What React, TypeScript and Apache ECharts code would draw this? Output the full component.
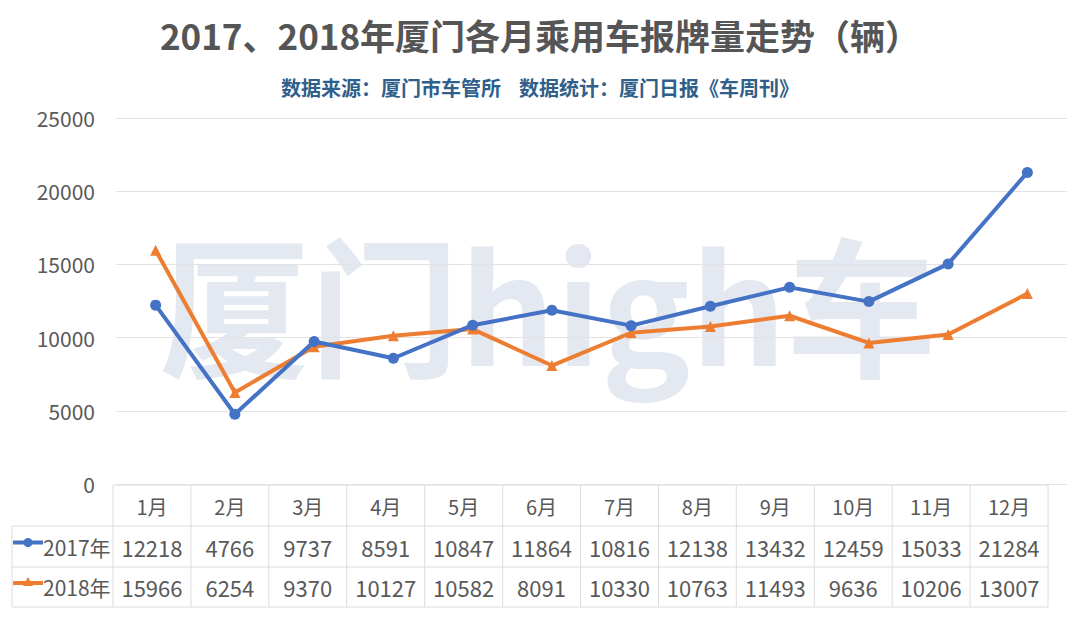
import React, { useEffect, useRef } from "react";
import * as echarts from "echarts";

const months = ["1月", "2月", "3月", "4月", "5月", "6月", "7月", "8月", "9月", "10月", "11月", "12月"];
const seriesNames = ["2017年", "2018年"];
const values2017 = [12218, 4766, 9737, 8591, 10847, 11864, 10816, 12138, 13432, 12459, 15033, 21284];
const values2018 = [15966, 6254, 9370, 10127, 10582, 8091, 10330, 10763, 11493, 9636, 10206, 13007];
const yTicks = [0, 5000, 10000, 15000, 20000, 25000];

const BLUE = "#4472C4";
const ORANGE = "#ED7D31";
const TEXT = "#595959";
const FONT = "'Noto Sans CJK SC', 'Noto Sans', sans-serif";

export default function App() {
  const ref = useRef<HTMLDivElement>(null);
  useEffect(() => {
    if (!ref.current) return;
    const chart = echarts.init(ref.current, undefined, { renderer: "svg" });

    const tLeft = 12;
    const cLeft = 113;
    const cRight = 1048;
    const colW = (cRight - cLeft) / months.length;
    const rows = [485, 526, 567, 607];
    const lineColor = "#dcdcdc";
    const g: any[] = [];
    g.push({
      type: "text",
      x: 548,
      y: 300,
      z: -10,
      silent: true,
      style: {
        text: "厦门high车",
        fontSize: 150,
        fontWeight: "bold",
        fontFamily: FONT,
        fill: "#e4e8f1",
        align: "center",
        verticalAlign: "middle",
      },
    });
    g.push({ type: "line", shape: { x1: cLeft, y1: rows[0], x2: cRight, y2: rows[0] }, style: { stroke: lineColor, lineWidth: 1 } });
    for (let r = 1; r < rows.length; r++) {
      g.push({ type: "line", shape: { x1: tLeft, y1: rows[r], x2: cRight, y2: rows[r] }, style: { stroke: lineColor, lineWidth: 1 } });
    }
    g.push({ type: "line", shape: { x1: tLeft, y1: rows[1], x2: tLeft, y2: rows[3] }, style: { stroke: lineColor, lineWidth: 1 } });
    for (let i = 0; i <= months.length; i++) {
      const x = cLeft + i * colW;
      g.push({ type: "line", shape: { x1: x, y1: rows[0], x2: x, y2: rows[3] }, style: { stroke: lineColor, lineWidth: 1 } });
    }
    months.forEach((m, i) => {
      const cx = cLeft + (i + 0.5) * colW;
      g.push({ type: "text", x: cx, y: (rows[0] + rows[1]) / 2 + 1, style: { text: m, fontSize: 20, fontFamily: FONT, fill: TEXT, align: "center", verticalAlign: "middle" } });
      g.push({ type: "text", x: cx, y: (rows[1] + rows[2]) / 2, style: { text: String(values2017[i]), fontSize: 22, fontFamily: FONT, fill: TEXT, align: "center", verticalAlign: "middle" } });
      g.push({ type: "text", x: cx, y: (rows[2] + rows[3]) / 2, style: { text: String(values2018[i]), fontSize: 22, fontFamily: FONT, fill: TEXT, align: "center", verticalAlign: "middle" } });
    });
    const k1 = (rows[1] + rows[2]) / 2 - 4;
    const k2 = (rows[2] + rows[3]) / 2 - 4;
    g.push({ type: "line", shape: { x1: 13, y1: k1, x2: 43, y2: k1 }, style: { stroke: BLUE, lineWidth: 4 } });
    g.push({ type: "circle", shape: { cx: 28, cy: k1, r: 4.5 }, style: { fill: BLUE } });
    g.push({ type: "line", shape: { x1: 13, y1: k2, x2: 43, y2: k2 }, style: { stroke: ORANGE, lineWidth: 4 } });
    g.push({ type: "polygon", shape: { points: [[28, k2 - 6], [33, k2 + 3], [23, k2 + 3]] }, style: { fill: ORANGE } });
    g.push({ type: "text", x: 43, y: (rows[1] + rows[2]) / 2, style: { text: seriesNames[0], fontSize: 21, fontFamily: FONT, fill: TEXT, align: "left", verticalAlign: "middle" } });
    g.push({ type: "text", x: 43, y: (rows[2] + rows[3]) / 2, style: { text: seriesNames[1], fontSize: 21, fontFamily: FONT, fill: TEXT, align: "left", verticalAlign: "middle" } });

    chart.setOption({
      animation: false,
      backgroundColor: "#ffffff",
      title: [
        {
          text: "2017、2018年厦门各月乘用车报牌量走势（辆）",
          left: "center",
          top: 12,
          textStyle: { fontSize: 35, fontWeight: "bold", color: "#555555", fontFamily: FONT },
        },
        {
          text: "数据来源：厦门市车管所    数据统计：厦门日报《车周刊》",
          left: "center",
          top: 72,
          textStyle: { fontSize: 20, fontWeight: "bold", color: "#2F5F8A", fontFamily: FONT },
        },
      ],
      grid: { left: 116, right: 13, top: 118, bottom: 148, containLabel: false },
      xAxis: {
        type: "category",
        data: months,
        boundaryGap: true,
        axisLine: { show: false },
        axisTick: { show: false },
        axisLabel: { show: false },
      },
      yAxis: {
        type: "value",
        min: yTicks[0],
        max: yTicks[yTicks.length - 1],
        interval: yTicks[1] - yTicks[0],
        axisLine: { show: false },
        axisTick: { show: false },
        axisLabel: { fontSize: 21, color: TEXT, margin: 21, fontFamily: FONT, formatter: (v: number) => String(v) },
        splitLine: { lineStyle: { color: "#e3e3e3", width: 1 } },
      },
      graphic: g,
      series: [
        {
          name: seriesNames[0],
          type: "line",
          data: values2017,
          symbol: "circle",
          symbolSize: 11,
          lineStyle: { color: BLUE, width: 4 },
          itemStyle: { color: BLUE },
          z: 3,
        },
        {
          name: seriesNames[1],
          type: "line",
          data: values2018,
          symbol: "triangle",
          symbolSize: 11,
          lineStyle: { color: ORANGE, width: 4 },
          itemStyle: { color: ORANGE },
          z: 2,
        },
      ],
    });
    return () => chart.dispose();
  }, []);
  return <div ref={ref} style={{ width: 1080, height: 632, position: "absolute", left: 0, top: 0 }} />;
}
